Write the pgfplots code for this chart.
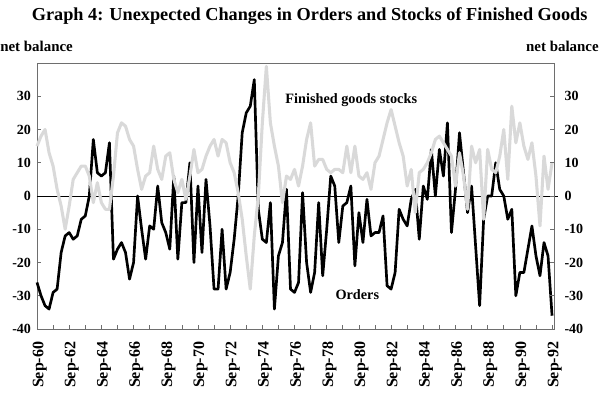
\documentclass[border=0pt]{standalone}
\usepackage{fontspec}
\setmainfont{Liberation Serif}
\usepackage{pgfplots}
\usepackage{pgfplotstable}
\pgfplotsset{compat=1.18}
\definecolor{stockgray}{RGB}{217,217,217}
\definecolor{framegray}{RGB}{110,110,110}
\pgfplotstableread{
i orders stocks
0 -26 15
1 -30 18
2 -33 20
3 -34 13
4 -29 9
5 -28 2
6 -17 -3
7 -12 -10
8 -11 -3
9 -13 5
10 -12 7
11 -7 9
12 -6 9
13 0 6
14 17 -2
15 7 4
16 6 -2
17 7 -4
18 16 -4
19 -19 6
20 -16 19
21 -14 22
22 -17 21
23 -25 17
24 -20 15
25 0 8
26 -10 2
27 -19 6
28 -9 7
29 -10 15
30 3 8
31 -8 5
32 -11 12
33 -16 13
34 6 5
35 -19 1
36 -2 5
37 -2 -1
38 10 6
39 -20 14
40 3 7
41 -17 8
42 5 12
43 -9 15
44 -28 17
45 -28 12
46 -10 17
47 -28 16
48 -23 10
49 -13 7
50 0 1
51 19 -7
52 25 -18
53 27 -28
54 35 -12
55 -4 0
56 -13 22
57 -14 39
58 -2 22
59 -34 15
60 -18 9
61 -14 -2
62 2 6
63 -28 5
64 -29 8
65 -26 3
66 1 9
67 -20 17
68 -29 22
69 -23 9
70 -2 11
71 -24 11
72 -10 8
73 6 7
74 3 8
75 -14 8
76 -3 7
77 -2 15
78 3 7
79 -21 15
80 -5 6
81 -14 5
82 -1 7
83 -12 2
84 -11 10
85 -11 12
86 -6 17
87 -27 22
88 -28 26
89 -23 21
90 -4 16
91 -7 12
92 -9 3
93 -1 8
94 2 -5
95 -13 7
96 3 8
97 -1 10
98 14 13
99 0 17
100 14 18
101 6 16
102 22 14
103 -11 12
104 2 3
105 19 13
106 7 6
107 -5 -4
108 3 15
109 -15 10
110 -33 14
111 -7 -7
112 0 14
113 0 8
114 10 7
115 2 12
116 0 20
117 -7 5
118 -4 27
119 -30 16
120 -23 22
121 -23 15
122 -16 11
123 -9 16
124 -18 6
125 -24 -9
126 -14 12
127 -18 2
128 -36 10
}\datatable
\begin{document}
\begin{tikzpicture}[x=1pt,y=1pt]
\useasboundingbox (-27.75,-49.5) rectangle (422.25,246.75);
\pgfplotsset{
  common/.style={
    at={(0,0)}, anchor=south west, scale only axis,
    width=388.1pt, height=199.5pt,
    xmin=0, xmax=128.6, ymin=-40, ymax=40,
    ytick={-40,-30,...,30},
    tick align=inside, major tick length=3pt, minor tick length=3pt,
    tick style={framegray, line width=0.5pt},
    ticklabel style={font=\bfseries\fontsize{10.5}{12}\selectfont},
    /pgf/number format/assume math mode=true,
  }
}
\begin{axis}[common,
  axis line style={framegray, line width=0.7pt},
  xtick={0,8,...,128},
  minor xtick={4,12,...,124},
  xticklabels={Sep-60,Sep-62,Sep-64,Sep-66,Sep-68,Sep-70,Sep-72,Sep-74,Sep-76,Sep-78,Sep-80,Sep-82,Sep-84,Sep-86,Sep-88,Sep-90,Sep-92},
  xticklabel style={rotate=90, anchor=east, xshift=-6pt, yshift=-2pt, font=\bfseries\fontsize{12}{13}\selectfont},
  xtick pos=bottom, ytick pos=left,
  yticklabel style={xshift=-1pt},
  clip=false,
]
\addplot[black, line width=0.7pt] coordinates {(0,0) (129.6,0)};
\addplot[black, line width=2pt, line join=round] table[x=i, y=orders] {\datatable};
\addplot[stockgray, line width=2.3pt, line join=round] table[x=i, y=stocks] {\datatable};
\node[font=\bfseries\fontsize{10.7}{12}\selectfont] at (axis cs:78.1,28.8) {Finished goods stocks};
\node[font=\bfseries\fontsize{10.7}{12}\selectfont] at (axis cs:79.6,-29.7) {Orders};
\end{axis}
\begin{axis}[common,
  axis x line=none, axis y line*=right,
  axis line style={framegray, line width=0.7pt},
  yticklabel style={xshift=4pt},
]
\end{axis}
\node[anchor=center, font=\bfseries\fontsize{13.7}{15}\selectfont] at (204.5,235) {Graph 4: Unexpected Changes in Orders and Stocks of Finished Goods};
\node[anchor=west, inner sep=0pt, font=\bfseries\fontsize{11.2}{12}\selectfont] at (-27.75,212.25) {net balance};
\node[anchor=east, inner sep=0pt, font=\bfseries\fontsize{11.2}{12}\selectfont] at (421.5,212.25) {net balance};
\end{tikzpicture}
\end{document}
